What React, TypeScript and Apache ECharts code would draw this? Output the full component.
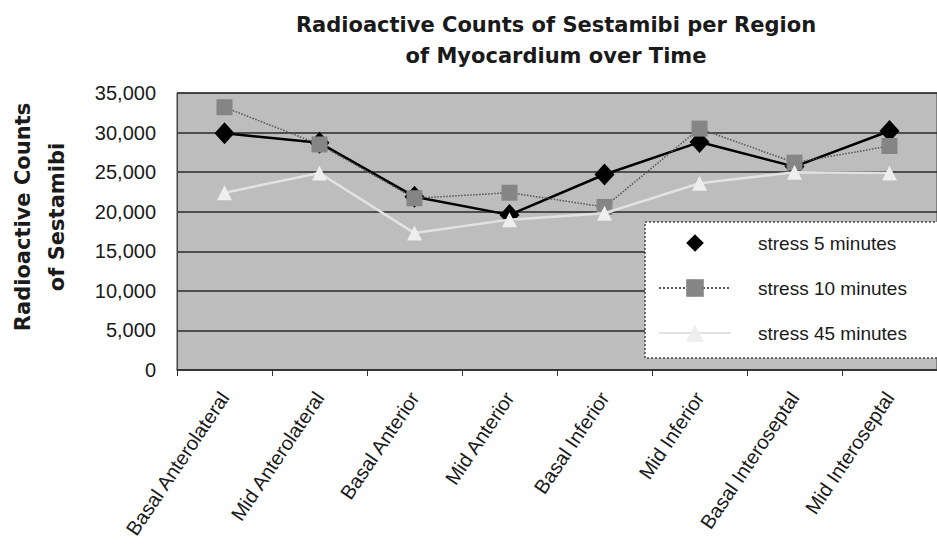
import React, { useEffect, useRef } from "react";
import * as echarts from "echarts";

const categories = [
  "Basal Anterolateral",
  "Mid Anterolateral",
  "Basal Anterior",
  "Mid Anterior",
  "Basal Inferior",
  "Mid Inferior",
  "Basal Interoseptal",
  "Mid Interoseptal",
];
const stress5 = [29900, 28700, 21900, 19600, 24700, 28800, 25700, 30200];
const stress10 = [33200, 28500, 21700, 22400, 20600, 30500, 26200, 28300];
const stress45 = [22400, 24900, 17300, 19000, 19800, 23600, 25000, 24900];
const seriesNames = ["stress 5 minutes", "stress 10 minutes", "stress 45 minutes"];
const titleText = "Radioactive Counts of Sestamibi per Region\nof Myocardium over Time";
const yTitle = "Radioactive Counts\nof Sestamibi";

export default function App() {
  const ref = useRef<HTMLDivElement>(null);
  useEffect(() => {
    if (!ref.current) return;
    const chart = echarts.init(ref.current, undefined, { renderer: "svg" });
    const labelFont = "'Liberation Sans', Arial, sans-serif";
    const boldFont = "'DejaVu Sans', sans-serif";
    chart.setOption({
      animation: false,
      backgroundColor: "#ffffff",
      grid: {
        left: 177,
        top: 93,
        width: 761,
        height: 277,
        show: true,
        backgroundColor: "#bdbdbd",
        borderColor: "#444",
        borderWidth: 1,
      },
      graphic: [
        {
          type: "text",
          x: 556,
          y: 9,
          style: {
            text: titleText,
            font: `bold 21px ${boldFont}`,
            fill: "#1a1a1a",
            textAlign: "center",
            textVerticalAlign: "top",
            lineHeight: 31,
          },
        },
        {
          type: "text",
          x: 40,
          y: 217,
          rotation: Math.PI / 2,
          style: {
            text: yTitle,
            font: `bold 21px ${boldFont}`,
            fill: "#1a1a1a",
            textAlign: "center",
            textVerticalAlign: "middle",
            lineHeight: 34,
          },
        },
        {
          type: "rect",
          shape: { x: 645, y: 222, width: 300, height: 136 },
          style: { fill: "#ffffff", stroke: "#444", lineWidth: 1.5, lineDash: [2, 2] },
          z: 10,
        },
      ],
      legend: {
        orient: "vertical",
        left: 658,
        top: 232,
        padding: 0,
        itemWidth: 72,
        itemHeight: 22,
        itemGap: 23,
        z: 20,
        textStyle: {
          fontFamily: labelFont,
          fontSize: 19,
          color: "#1a1a1a",
          padding: [0, 0, 0, 22],
          lineHeight: 22,
        },
        data: [
          { name: seriesNames[0], lineStyle: { width: 0, opacity: 0 } },
          { name: seriesNames[1] },
          { name: seriesNames[2] },
        ],
      },
      xAxis: {
        type: "category",
        data: categories,
        boundaryGap: true,
        axisLine: { show: true, lineStyle: { color: "#333", width: 1.5 } },
        axisTick: { show: true, length: 6, lineStyle: { color: "#333" } },
        axisLabel: {
          rotate: 56,
          margin: 24,
          fontFamily: labelFont,
          fontSize: 20,
          color: "#1a1a1a",
        },
        splitLine: { show: false },
      },
      yAxis: {
        type: "value",
        min: 0,
        max: 35000,
        interval: 5000,
        axisLine: { show: true, lineStyle: { color: "#444" } },
        axisTick: { show: false },
        axisLabel: {
          margin: 21,
          fontFamily: labelFont,
          fontSize: 20,
          color: "#1a1a1a",
          formatter: (v: number) => v.toLocaleString("en-US"),
        },
        splitLine: { show: true, lineStyle: { color: "#2a2a2a", width: 1.5 } },
      },
      series: [
        {
          name: seriesNames[0],
          type: "line",
          data: stress5,
          symbol: "diamond",
          symbolSize: [20, 22],
          itemStyle: { color: "#000" },
          lineStyle: { color: "#000", width: 2.5 },
          z: 3,
        },
        {
          name: seriesNames[1],
          type: "line",
          data: stress10,
          symbol: "rect",
          symbolSize: 16,
          itemStyle: { color: "#858585" },
          lineStyle: { color: "#555", width: 1.5, type: "dotted" },
          z: 4,
        },
        {
          name: seriesNames[2],
          type: "line",
          data: stress45,
          symbol: "triangle",
          symbolSize: 15,
          itemStyle: { color: "#eeeeee" },
          lineStyle: { color: "#e2e2e2", width: 2.5 },
          z: 5,
        },
      ],
    });
    return () => chart.dispose();
  }, []);
  return <div ref={ref} style={{ width: 937, height: 555, position: "absolute", left: 0, top: 0 }} />;
}
